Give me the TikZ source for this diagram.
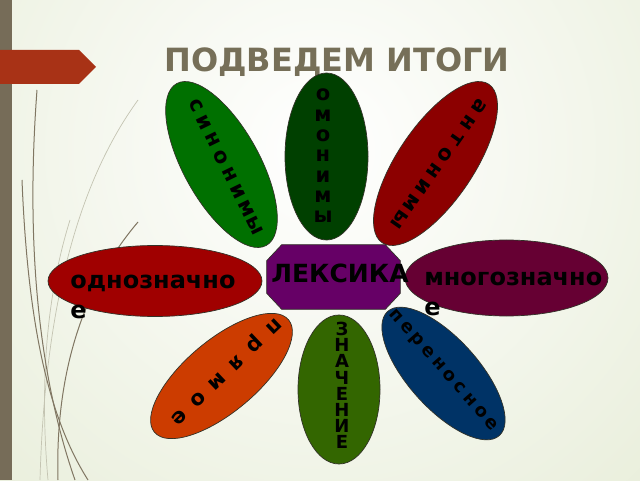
\documentclass[tikz,border=0pt]{standalone}
\usepackage{fontspec}
\setmainfont{DejaVu Sans}
\usetikzlibrary{shapes.geometric}
\tikzset{
  every picture/.append style={line width=0.6pt},
}
\newcommand{\petalword}[7][]{% style, centre, direction, letter turn, step, count, letters
  \foreach \ch [count=\i] in {#7}
    \node[letter, #1, rotate=#4] (#2-\i) at ([shift={(#3:{(\i-(#6+1)/2)*#5})}]#2) {\ch};
}

\begin{document}
\begin{tikzpicture}[
  x=1pt, y=1pt,
  petal/.style={ellipse, draw=petaledge, line width=0.7pt, inner sep=0pt},
  letter/.style={font=\bfseries\fontsize{21}{21}\selectfont, inner sep=0pt, text height=1ex, text depth=0pt},
  small/.style={font=\bfseries\fontsize{18}{18}\selectfont},
  caps/.style={text height=1.35ex},
  word/.style={font=\bfseries\fontsize{24}{30}\selectfont, align=left, inner sep=0pt},
  grass/.style={draw=grassdark, line width=1pt},
  thingrass/.style={draw=grasslight, line width=0.7pt}
]

% --- Colours ---
\definecolor{bargray}{RGB}{118,108,88}
\definecolor{bannerred}{RGB}{168,50,22}
\definecolor{titlegray}{RGB}{118,111,88}
\definecolor{bgout}{RGB}{214,224,188}
\definecolor{grassdark}{RGB}{128,118,98}
\definecolor{grasslight}{RGB}{196,196,178}
\definecolor{petaledge}{RGB}{50,50,40}
\definecolor{syngreen}{RGB}{0,112,0}
\definecolor{homgreen}{RGB}{0,64,0}
\definecolor{antred}{RGB}{140,0,0}
\definecolor{onered}{RGB}{160,0,0}
\definecolor{multiwine}{RGB}{102,0,51}
\definecolor{lexpurple}{RGB}{102,0,102}
\definecolor{dirorange}{RGB}{204,60,0}
\definecolor{meangreen}{RGB}{51,102,0}
\definecolor{figblue}{RGB}{0,51,102}

% --- Slide background ---
\useasboundingbox (0,0) rectangle (640,480);
\fill[bgout] (0,0) rectangle (640,480);
\begin{scope}
  \clip (0,0) rectangle (640,480);
  \shade[inner color=white, outer color=bgout] (320,330) circle (900);
  \draw[thingrass] (138,380) .. controls (80,300) and (45,180) .. (40,0);
  \draw[thingrass] (70,260) .. controls (45,180) and (40,90) .. (48,0);
  \draw[grass] (37,390) .. controls (25,230) and (40,100) .. (75,0);
  \draw[grass] (22,300) .. controls (28,150) and (50,60) .. (88,0);
  \draw[grass] (138,258) .. controls (80,190) and (55,100) .. (58,0);
\end{scope}
\fill[bargray] (0,0) rectangle (12,480);
\fill[bannerred] (0,430) -- (79,430) -- (96,413) -- (79,396) -- (0,396) -- cycle;

% --- Title ---
\node[font=\bfseries\fontsize{32}{32}\selectfont, text=titlegray, anchor=base] (title) at (337,408) {ПОДВЕДЕМ ИТОГИ};

% --- Petals ---
\node[petal, fill=syngreen, minimum width=185pt, minimum height=76pt, rotate=-61] (syn) at (221.5,315.5) {};
\node[petal, fill=homgreen, minimum width=83pt, minimum height=167pt] (hom) at (326.5,323.5) {};
\node[petal, fill=antred, minimum width=191pt, minimum height=76pt, rotate=56] (ant) at (435.5,316.5) {};
\node[petal, fill=onered, minimum width=214pt, minimum height=71pt] (one) at (155,199) {};
\node[petal, fill=multiwine, minimum width=203pt, minimum height=76pt] (multi) at (506.5,202) {};
\node[petal, fill=dirorange, minimum width=175pt, minimum height=72pt, rotate=40] (dir) at (221.5,104) {};
\node[petal, fill=meangreen, minimum width=82pt, minimum height=149pt] (mean) at (339,90.5) {};
\node[petal, fill=figblue, minimum width=167pt, minimum height=70pt, rotate=-48] (fig) at (443.5,106.5) {};

% --- Centre ---
\node[minimum width=133pt, minimum height=64pt, inner sep=0pt] (lex) at (333.5,203) {};
\filldraw[draw=petaledge, fill=lexpurple, line width=0.7pt]
  ([xshift=15pt]lex.north west) -- ([xshift=-15pt]lex.north east) -- ([yshift=-16pt]lex.north east)
  -- ([yshift=16pt]lex.south east) -- ([xshift=-15pt]lex.south east) -- ([xshift=15pt]lex.south west)
  -- ([yshift=16pt]lex.south west) -- ([yshift=-16pt]lex.north west) -- cycle;
\node[font=\bfseries\fontsize{25}{25}\selectfont, anchor=base, inner sep=0pt] (lex-text) at (340,197) {ЛЕКСИКА};

% --- Words ---
\node[word, anchor=north west] (one-text) at (70,205) {однозначно\\е};
\node[word, anchor=north west] (multi-text) at (424,208) {многозначно\\е};

\coordinate (syn-c) at (222.5,313);
\coordinate (hom-c) at (323,321);
\coordinate (ant-c) at (437,319);
\coordinate (dir-c) at (224.5,110);
\coordinate (mean-c) at (342,91.5);
\coordinate (fig-c) at (442.5,109);

\petalword{syn-c}{-64}{-64}{19.1}{8}{с,и,н,о,н,и,м,ы}
\petalword{hom-c}{-90}{0}{20.3}{7}{о,м,о,н,и,м,ы}
\petalword{ant-c}{-125}{-125}{19.7}{8}{а,н,т,о,н,и,м,ы}
\petalword{dir-c}{-136.5}{-136.5}{26.2}{6}{п,р,я,м,о,е}
\petalword[small, caps]{mean-c}{-90}{0}{16.2}{8}{З,Н,А,Ч,Е,Н,И,Е}
\petalword[small]{fig-c}{-48.7}{-48.7}{16}{10}{п,е,р,е,н,о,с,н,о,е}

\end{tikzpicture}
\end{document}
